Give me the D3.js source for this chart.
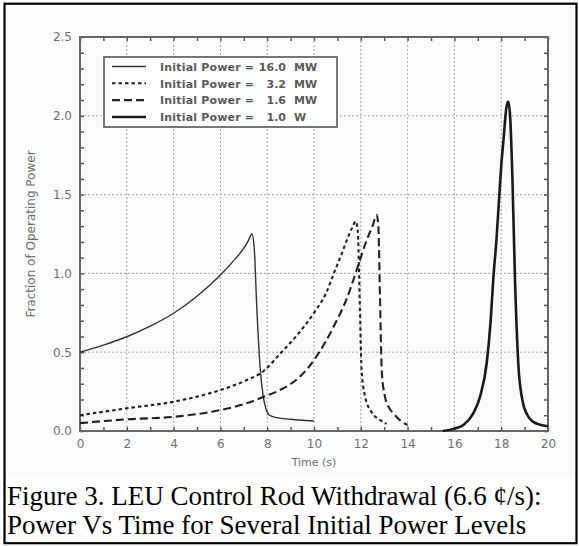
<!DOCTYPE html>
<html><head><meta charset="utf-8">
<script src="https://cdn.jsdelivr.net/npm/d3@7"></script>
<style>
html,body{margin:0;padding:0;background:#fff;}
svg{display:block;}
</style></head>
<body>
<svg id="c" width="579" height="546"></svg>
<script>
// ---- data ----
const xTicks = [0,2,4,6,8,10,12,14,16,18,20];
const yTicks = [0.0,0.5,1.0,1.5,2.0,2.5];
const seriesNames = ["16.0", "3.2", "1.6", "1.0"];
const seriesUnits = ["MW", "MW", "MW", "W"];

const t16 = [0,1,2,3,4,5,6,6.5,7,7.2,7.35,7.45,7.55,7.7,7.83,7.95,8.1,8.4,9,9.5,10];
const p16 = [0.50,0.545,0.598,0.665,0.747,0.855,0.99,1.07,1.16,1.21,1.25,1.15,0.80,0.40,0.22,0.14,0.10,0.085,0.075,0.068,0.063];

const t32 = [0,2,4,6,7,7.9,8.55,9.4,10,10.5,10.9,11.2,11.4,11.6,11.79,11.87,11.95,12.03,12.18,12.46,12.82,13.1];
const p32 = [0.10,0.144,0.186,0.26,0.315,0.387,0.49,0.63,0.75,0.87,1.02,1.13,1.21,1.28,1.33,1.27,0.85,0.40,0.22,0.12,0.07,0.045];

const t16b = [0,2,4,6,7,7.9,8.55,9.4,10,10.9,11.4,11.82,12.25,12.5,12.68,12.75,12.82,12.9,13.03,13.2,13.4,13.7,13.9,14];
const p16b = [0.05,0.074,0.09,0.133,0.17,0.22,0.26,0.345,0.45,0.68,0.84,1.02,1.21,1.30,1.37,1.30,0.85,0.37,0.22,0.15,0.11,0.065,0.045,0.04];

const t1w = [15.5,16,16.4,16.8,17.1,17.38,17.55,17.66,17.8,17.9,18.0,18.1,18.22,18.3,18.38,18.48,18.59,18.73,18.9,19.09,19.35,19.66,20];
const p1w = [0.0,0.015,0.04,0.11,0.22,0.43,0.70,0.96,1.22,1.45,1.68,1.85,2.05,2.09,2.0,1.6,0.96,0.43,0.20,0.11,0.06,0.04,0.03];

// ---- drawing ----
const svg = d3.select("#c");
const FONT = "DejaVu Sans, Arial, sans-serif";

// image area background
svg.append("rect").attr("x",5).attr("y",4).attr("width",571).attr("height",472).attr("fill","#fbfbfb");

const x = d3.scaleLinear().domain([0,20]).range([80,548]);
const y = d3.scaleLinear().domain([0,2.5]).range([431,37]);

// grid
const grid = svg.append("g");
grid.selectAll("line.v").data(xTicks.slice(1,-1)).enter().append("line")
  .attr("x1",d=>x(d)).attr("x2",d=>x(d)).attr("y1",y(0)).attr("y2",y(2.5))
  .attr("stroke","#a8a8a8").attr("stroke-width",1).attr("stroke-dasharray","2,2");
grid.selectAll("line.h").data(yTicks.slice(1,-1)).enter().append("line")
  .attr("y1",d=>y(d)).attr("y2",d=>y(d)).attr("x1",x(0)).attr("x2",x(20))
  .attr("stroke","#a8a8a8").attr("stroke-width",1).attr("stroke-dasharray","2,2");

// axes
const xAll = d3.range(0,21,1);
const yAll = d3.range(0,26,1).map(d=>d/10);
function styleAxis(g){
  g.select(".domain").remove();
  g.selectAll(".tick line").attr("stroke","#555").attr("stroke-width",1.5);
  g.selectAll(".tick text").attr("fill","#707070").attr("font-family",FONT).attr("font-size",12);
}
svg.append("g").attr("transform",`translate(0,${y(0)})`)
  .call(d3.axisBottom(x).tickValues(xAll).tickSize(-4).tickPadding(8)
    .tickFormat(d=> d%2===0 ? d3.format("d")(d) : ""))
  .call(styleAxis);
svg.append("g").attr("transform",`translate(0,${y(2.5)})`)
  .call(d3.axisTop(x).tickValues(xAll).tickSize(-4).tickFormat(""))
  .call(styleAxis);
svg.append("g").attr("transform",`translate(${x(0)},0)`)
  .call(d3.axisLeft(y).tickValues(yAll).tickSize(-4).tickPadding(8)
    .tickFormat(d=> (Math.round(d*10)%5===0) ? d3.format(".1f")(d) : ""))
  .call(styleAxis);
svg.append("g").attr("transform",`translate(${x(20)},0)`)
  .call(d3.axisRight(y).tickValues(yAll).tickSize(-4).tickFormat(""))
  .call(styleAxis);

// frame
svg.append("rect").attr("x",x(0)).attr("y",y(2.5)).attr("width",x(20)-x(0)).attr("height",y(0)-y(2.5))
  .attr("fill","none").attr("stroke","#666").attr("stroke-width",2);

// axis titles
svg.append("text").attr("x",(x(0)+x(20))/2).attr("y",466).attr("text-anchor","middle")
  .attr("font-family",FONT).attr("font-size",11).attr("fill","#707070").text("Time (s)");
svg.append("text").attr("transform",`translate(35,${(y(0)+y(2.5))/2}) rotate(-90)`)
  .attr("text-anchor","middle").attr("font-family",FONT).attr("font-size",12).attr("fill","#707070")
  .text("Fraction of Operating Power");

// series
const styles = [
  {w:1.4, dash:null, col:"#333"},
  {w:2.1, dash:"3.5,3", col:"#222"},
  {w:2.1, dash:"8,4", col:"#222"},
  {w:2.6, dash:null, col:"#1a1a1a"}
];
const series = [
  d3.zip(t16,p16), d3.zip(t32,p32), d3.zip(t16b,p16b), d3.zip(t1w,p1w)
];
const line = d3.line().x(d=>x(d[0])).y(d=>y(d[1])).curve(d3.curveMonotoneX);
const plot = svg.append("g");
series.forEach((s,i)=>{
  plot.append("path").attr("d",line(s)).attr("fill","none")
    .attr("stroke",styles[i].col).attr("stroke-width",styles[i].w)
    .attr("stroke-dasharray",styles[i].dash).attr("stroke-linejoin","round");
});

// legend
const lg = svg.append("g");
lg.append("rect").attr("x",104).attr("y",57).attr("width",233).attr("height",70)
  .attr("fill","#fff").attr("stroke","#777").attr("stroke-width",2);
const rowY = [66.5, 83.3, 100.1, 117];
seriesNames.forEach((n,i)=>{
  lg.append("line").attr("x1",112).attr("x2",146).attr("y1",rowY[i]).attr("y2",rowY[i])
    .attr("stroke",styles[i].col).attr("stroke-width",styles[i].w).attr("stroke-dasharray",styles[i].dash);
  lg.append("text").attr("x",160).attr("y",rowY[i]+4.2).attr("font-family",FONT).attr("font-weight","bold")
    .attr("font-size",11).attr("fill","#5a5a5a").attr("textLength",94).attr("lengthAdjust","spacing")
    .text("Initial Power =");
  lg.append("text").attr("x",286).attr("y",rowY[i]+4.2).attr("text-anchor","end").attr("font-family",FONT)
    .attr("font-weight","bold").attr("font-size",11).attr("fill","#5a5a5a").text(n);
  lg.append("text").attr("x",294).attr("y",rowY[i]+4.2).attr("font-family",FONT)
    .attr("font-weight","bold").attr("font-size",11).attr("fill","#5a5a5a").text(seriesUnits[i]);
});

// outer border
svg.append("rect").attr("x",4.5).attr("y",3.7).attr("width",572).attr("height",539.5)
  .attr("fill","none").attr("stroke","#000").attr("stroke-width",2.2);

// caption
const cap = svg.append("g").attr("font-family","Liberation Serif, Times New Roman, serif").attr("font-size",27).attr("fill","#000");
cap.append("text").attr("x",7).attr("y",505).text("Figure 3. LEU Control Rod Withdrawal (6.6 \u00a2/s):");
cap.append("text").attr("x",7).attr("y",534).text("Power Vs Time for Several Initial Power Levels");
</script>
</body></html>
